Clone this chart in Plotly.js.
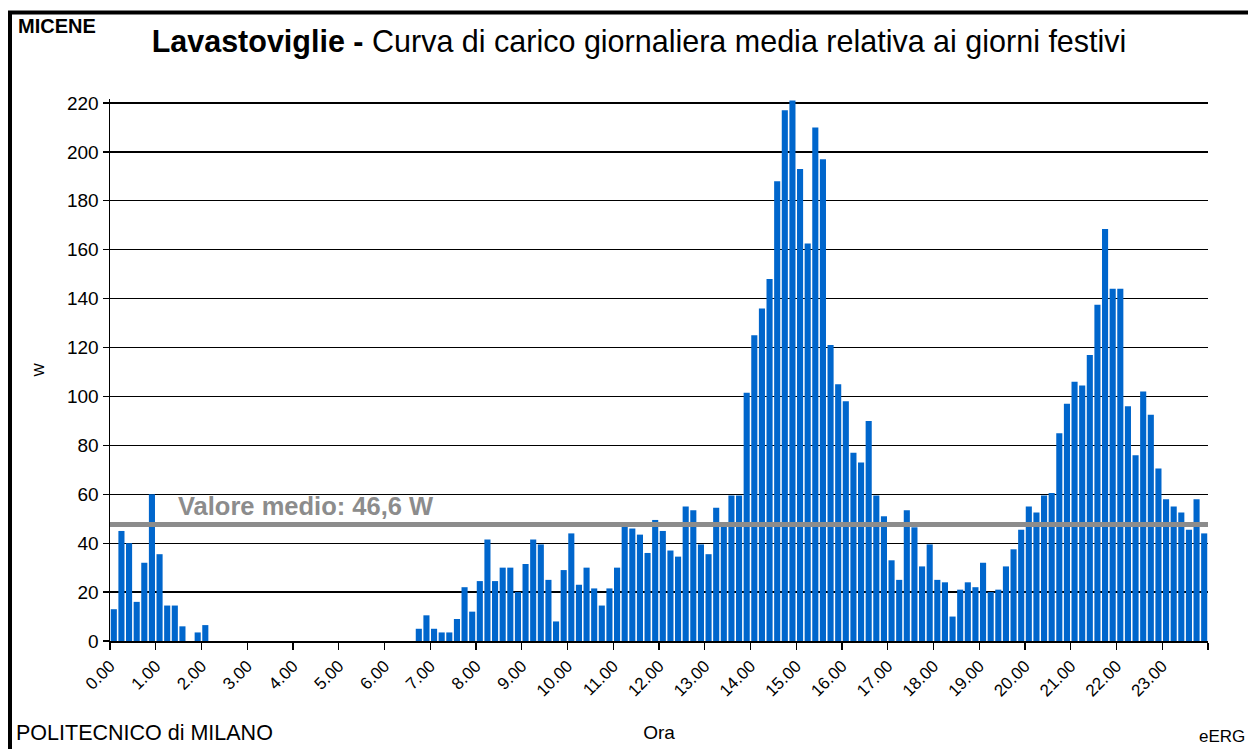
<!DOCTYPE html>
<html>
<head>
<meta charset="utf-8">
<script src="https://cdn.plot.ly/plotly-3.0.1.min.js"></script>
<style>
  html, body { margin: 0; padding: 0; background: #ffffff; }
  #chart { width: 1248px; height: 749px; }
</style>
</head>
<body>
<div id="chart"></div>
<script>
// ---- Data (10-minute averages, W) ----
const hourLabels = ["0.00","1.00","2.00","3.00","4.00","5.00","6.00","7.00","8.00","9.00","10.00","11.00",
                    "12.00","13.00","14.00","15.00","16.00","17.00","18.00","19.00","20.00","21.00","22.00","23.00"];

const loadW = [
  // 0:00 - 1:50
  13, 45, 40, 16, 32, 60,   35.5, 14.5, 14.5, 6, 0, 3.5,
  // 2:00 - 3:50
  6.5, 0, 0, 0, 0, 0,   0, 0, 0, 0, 0, 0,
  // 4:00 - 5:50
  0, 0, 0, 0, 0, 0,   0, 0, 0, 0, 0, 0,
  // 6:00 - 7:50
  0, 0, 0, 0, 5, 10.5,   5, 3.5, 3.5, 9, 22, 12,
  // 8:00 - 9:50
  24.5, 41.5, 24.5, 30, 30, 20,   31.5, 41.5, 39.5, 25, 8, 29,
  // 10:00 - 11:50
  44, 23, 30, 21.5, 14.5, 21.5,   30, 47, 46, 43.5, 36, 49.5,
  // 12:00 - 13:50
  45, 37, 34.5, 55, 53.5, 39.5,   35.5, 54.5, 48, 59.5, 59.5, 101.5,
  // 14:00 - 15:50
  125, 136, 148, 188, 217, 221,   193, 162.5, 210, 197, 121, 105,
  // 16:00 - 17:50
  98, 77, 73, 90, 59.5, 51,   33, 25, 53.5, 46.5, 30.5, 39.5,
  // 18:00 - 19:50
  25, 24, 10, 21, 24, 22,   32, 20, 21, 30.5, 37.5, 45.5,
  // 20:00 - 21:50
  55, 52.5, 59.5, 60.5, 85, 97,   106, 104.5, 117, 137.5, 168.5, 144,
  // 22:00 - 23:50
  144, 96, 76, 102, 92.5, 70.5,   58, 55, 52.5, 45.5, 58, 44
];

const meanLabel = "Valore medio: 46,6 W";
const meanLineW = 47.6;   // where the grey mean line sits in the picture
const yTicks = [0, 20, 40, 60, 80, 100, 120, 140, 160, 180, 200, 220];

// ---- Geometry helpers (pixel -> paper) ----
const W = 1248, H = 749;
const plotL = 110, plotR = 1208, plotB = 641, plotT = 99;
const px = x => (x - plotL) / (plotR - plotL);
const py = y => (plotB - y) / (plotB - plotT);
const yMax = (plotB - plotT) / ((plotB - 103) / 220);

const xCenters = loadW.map((_, i) => i / 6 + 1 / 12);
const hourTickVals = hourLabels.map((_, i) => i).concat([24]);
const hourTickText = hourLabels.concat([""]);

const FONT = "Liberation Sans, Arial, Helvetica, sans-serif";

const trace = {
  type: "bar",
  x: xCenters,
  y: loadW,
  width: 1 / 6 * 0.8,
  marker: { color: "#0066cc", line: { width: 0 } },
  hoverinfo: "x+y",
  showlegend: false
};

const layout = {
  width: W, height: H,
  margin: { l: plotL, r: W - plotR, t: plotT, b: H - plotB, pad: 0 },
  paper_bgcolor: "#ffffff",
  plot_bgcolor: "#ffffff",
  font: { family: FONT, color: "#000000" },
  title: {
    text: "<b>Lavastoviglie - </b>Curva di carico giornaliera media relativa ai giorni festivi",
    font: { family: FONT, size: 30.5, color: "#000000" },
    xref: "container", x: 639 / W, xanchor: "center",
    yref: "container", y: 1 - 41 / H, yanchor: "middle"
  },
  xaxis: {
    range: [0, 24],
    tickmode: "array",
    tickvals: hourTickVals,
    ticktext: hourTickText,
    tickangle: -45,
    tickfont: { family: FONT, size: 17, color: "#000000" },
    ticks: "outside", ticklen: 7, tickwidth: 1.2, tickcolor: "#000000",
    showline: true, linecolor: "#000000", linewidth: 1.5,
    showgrid: false, zeroline: false,
    automargin: false,
    title: { text: "Ora", font: { family: FONT, size: 19, color: "#000000" }, standoff: 26 }
  },
  yaxis: {
    range: [0, yMax],
    tickmode: "array",
    tickvals: yTicks,
    ticktext: yTicks.map(String),
    tickfont: { family: FONT, size: 19, color: "#000000" },
    ticks: "outside", ticklen: 6, tickwidth: 1.2, tickcolor: "#000000",
    showline: true, linecolor: "#000000", linewidth: 1.5,
    showgrid: true, gridcolor: "#000000", gridwidth: 1.3,
    zeroline: false,
    automargin: false,
    title: { text: "W", font: { family: FONT, size: 14, color: "#000000" }, standoff: 19 }
  },
  bargap: 0.2,
  shapes: [
    // grey mean line
    { type: "line", xref: "x", yref: "y", x0: 0, x1: 24, y0: meanLineW, y1: meanLineW,
      line: { color: "#8c8c8c", width: 5 }, layer: "above" },
    // outer frame (left and top)
    { type: "line", xref: "paper", yref: "paper", x0: px(10), x1: px(10), y0: py(11), y1: py(H + 5),
      line: { color: "#000000", width: 4 } },
    { type: "line", xref: "paper", yref: "paper", x0: px(8), x1: px(W + 5), y0: py(12.5), y1: py(12.5),
      line: { color: "#000000", width: 4 } }
  ],
  annotations: [
    { text: "<b>" + meanLabel + "</b>", xref: "paper", yref: "paper",
      x: px(176), y: py(506), xanchor: "left", yanchor: "middle", showarrow: false,
      font: { family: FONT, size: 25.5, color: "#8c8c8c" } },
    { text: "<b>MICENE</b>", xref: "paper", yref: "paper",
      x: px(16), y: py(26), xanchor: "left", yanchor: "middle", showarrow: false,
      font: { family: FONT, size: 20, color: "#000000" } },
    { text: "POLITECNICO di MILANO", xref: "paper", yref: "paper",
      x: px(14), y: py(733), xanchor: "left", yanchor: "middle", showarrow: false,
      font: { family: FONT, size: 21.5, color: "#000000" } },
    { text: "eERG", xref: "paper", yref: "paper",
      x: px(1247), y: py(736), xanchor: "right", yanchor: "middle", showarrow: false,
      font: { family: FONT, size: 17, color: "#000000" } }
  ]
};

Plotly.newPlot("chart", [trace], layout, { displayModeBar: false, staticPlot: true });
</script>
</body>
</html>
